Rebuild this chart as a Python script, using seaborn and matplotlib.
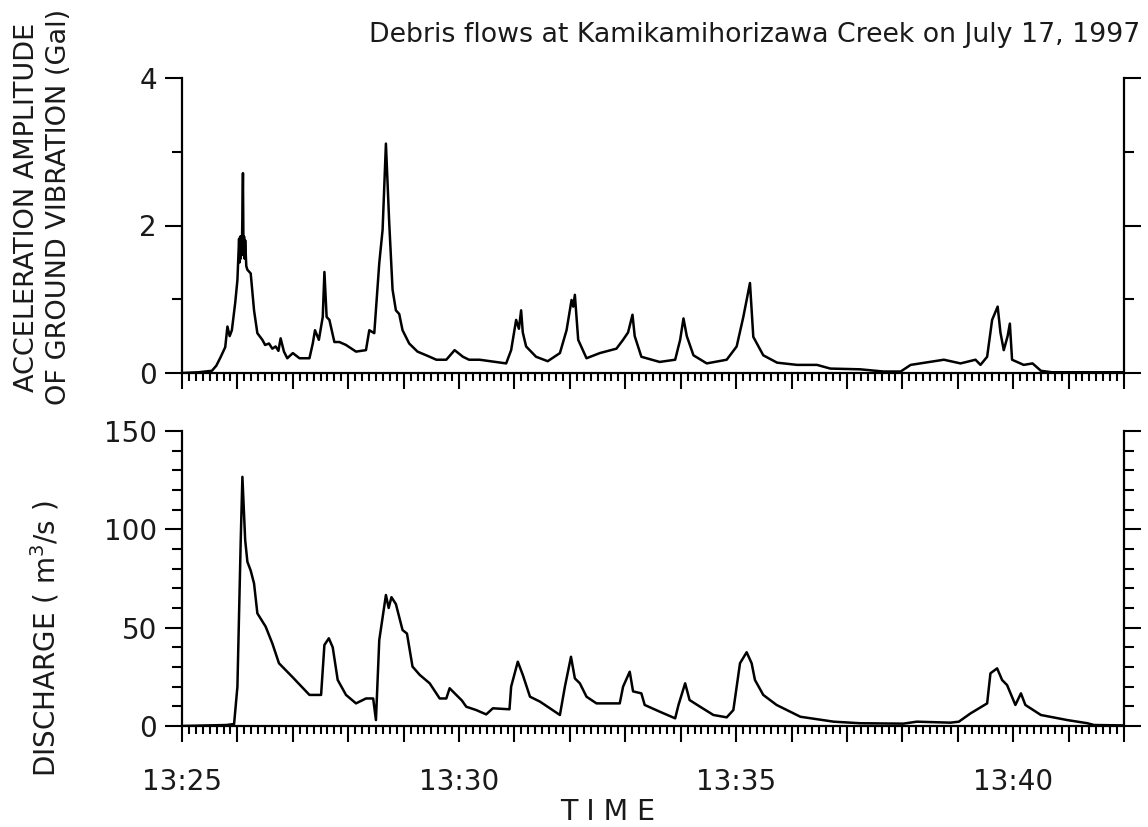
import matplotlib
matplotlib.use("Agg")
import matplotlib.pyplot as plt
from matplotlib.ticker import MultipleLocator, FuncFormatter
import seaborn as sns
import pandas as pd

# ---- data (time in minutes after 13:25) ----
vib_time = [0, 0.3, 0.54, 0.62, 0.70, 0.78, 0.82, 0.86, 0.90, 0.96, 1.00, 1.03, 1.04, 1.05,
            1.06, 1.07, 1.08, 1.10, 1.11, 1.12, 1.13, 1.14, 1.16, 1.18, 1.24, 1.30, 1.36,
            1.45, 1.50, 1.57, 1.63, 1.69, 1.74,
            1.78, 1.84, 1.90, 2.00, 2.12, 2.30, 2.36, 2.40, 2.47, 2.54, 2.57, 2.61, 2.66,
            2.75, 2.84, 2.96, 3.14, 3.32, 3.38, 3.47, 3.56, 3.62, 3.68, 3.74, 3.80, 3.86,
            3.92, 3.98, 4.10, 4.25, 4.47, 4.59, 4.77, 4.92, 5.07, 5.18, 5.37, 5.85, 5.94,
            6.03, 6.08, 6.12, 6.15, 6.21, 6.39, 6.60, 6.82, 6.94, 7.03, 7.06, 7.09, 7.15,
            7.30, 7.54, 7.84, 7.96, 8.05, 8.13, 8.17, 8.29, 8.62, 8.90, 8.99, 9.05, 9.11,
            9.23, 9.47, 9.83, 10.01, 10.13, 10.25, 10.31, 10.49, 10.74, 11.10, 11.46, 11.70,
            12.24, 12.66, 12.97, 13.15, 13.75, 14.05, 14.32, 14.41, 14.53, 14.62, 14.72,
            14.77, 14.83, 14.90, 14.94, 14.98, 15.19, 15.35, 15.50, 15.70, 17.00]
vib_gal = [0.0, 0.01, 0.03, 0.10, 0.22, 0.35, 0.63, 0.50, 0.58, 0.95, 1.26, 1.82, 1.50, 1.85,
           1.55, 1.85, 1.60, 2.71, 1.60, 1.85, 1.55, 1.80, 1.45, 1.40, 1.35, 0.85, 0.54,
           0.45, 0.38, 0.40, 0.33, 0.36, 0.30,
           0.47, 0.29, 0.20, 0.27, 0.20, 0.20, 0.40, 0.58, 0.45, 0.76, 1.37, 0.76, 0.72,
           0.42, 0.42, 0.38, 0.29, 0.31, 0.58, 0.54, 1.49, 1.94, 3.11, 2.03, 1.13, 0.85,
           0.80, 0.58, 0.40, 0.29, 0.22, 0.18, 0.18, 0.31, 0.22, 0.18, 0.18, 0.13, 0.31,
           0.72, 0.60, 0.85, 0.55, 0.36, 0.22, 0.16, 0.27, 0.58, 0.99, 0.90, 1.06, 0.45,
           0.20, 0.27, 0.33, 0.45, 0.55, 0.79, 0.50, 0.22, 0.15, 0.18, 0.45, 0.74, 0.50,
           0.24, 0.13, 0.18, 0.36, 0.76, 1.22, 0.49, 0.24, 0.14, 0.11, 0.11, 0.06,
           0.05, 0.02, 0.02, 0.11, 0.18, 0.13, 0.18, 0.11, 0.22, 0.72, 0.90,
           0.55, 0.31, 0.50, 0.67, 0.18, 0.11, 0.13, 0.03, 0.01, 0.01]

dis_time = [0, 0.80, 0.94, 1.00, 1.06, 1.09, 1.14, 1.18, 1.24, 1.30, 1.36, 1.51, 1.63, 1.75,
            1.99, 2.30, 2.51, 2.57, 2.65, 2.72, 2.81, 2.96, 3.14, 3.32, 3.45, 3.50, 3.56,
            3.68, 3.73, 3.78, 3.86, 3.98, 4.06, 4.16, 4.29, 4.47, 4.65, 4.77, 4.83, 4.95,
            5.05, 5.13, 5.31, 5.49, 5.61, 5.91, 5.94, 6.06, 6.15, 6.28, 6.46, 6.64, 6.82,
            6.91, 7.02, 7.09, 7.18, 7.30, 7.48, 7.90, 7.96, 8.08, 8.14, 8.29, 8.35, 8.62,
            8.90, 8.96, 9.08, 9.16, 9.35, 9.59, 9.83, 9.95, 10.07, 10.19, 10.28, 10.34,
            10.49, 10.73, 11.16, 11.76, 12.24, 13.02, 13.26, 13.87, 14.02, 14.23, 14.53,
            14.59, 14.71, 14.80, 14.89, 15.04, 15.14, 15.22, 15.50, 15.98, 16.34, 16.46, 17.00]
dis_q = [0, 0.5, 1, 20, 94.6, 126.7, 94.6, 83.5, 79, 72.5, 57.3, 50.5, 42, 31.9,
         25, 15.8, 15.8, 41.2, 44.6, 40, 23.4, 15.8, 11.5, 14, 14, 3, 43.7,
         66.6, 60, 65.5, 62, 48.8, 47, 30.2, 26, 21.7, 14, 14, 19.2, 15.8,
         13, 9.8, 8.1, 5.9, 9, 8.5, 20, 32.7, 26, 14.9, 12.4, 9, 5.6,
         20, 35.2, 24.2, 21.7, 14.9, 11.5, 11.5, 20, 27.6, 17.6, 16.6, 10.7, 7.3,
         3.9, 10.7, 21.7, 13.2, 9.8, 5.6, 4.4, 8.1, 31.9, 37.5, 31.9, 23.4,
         15.8, 10.7, 4.7, 2.2, 1.4, 1.2, 2.2, 1.7, 2.2, 6.4, 11.5,
         26.8, 29.3, 23.4, 20.8, 10.7, 16.6, 10.7, 5.6, 3, 1.4, 0.5, 0.3]

time_labels = {0: "13:25", 5: "13:30", 10: "13:35", 15: "13:40"}

title_text = "Debris flows at Kamikamihorizawa Creek on July 17, 1997"
vib_label = "ACCELERATION AMPLITUDE\nOF GROUND VIBRATION (Gal)"
dis_label = "DISCHARGE ( m$^3$/s )"
x_label = "T I M E"

# ---- style ----
sns.set_style("ticks")
plt.rcParams["font.family"] = ["DejaVu Sans"]
plt.rcParams["mathtext.fontset"] = "dejavusans"

INK = "#1a1a1a"

fig = plt.figure(figsize=(11.48, 8.27), dpi=100)
ax1 = fig.add_axes([182 / 1148, 1 - 373 / 827, (1124 - 182) / 1148, 295 / 827])
ax2 = fig.add_axes([182 / 1148, 1 - 726 / 827, (1124 - 182) / 1148, 295 / 827])

df1 = pd.DataFrame({"t": vib_time, "v": vib_gal})
df2 = pd.DataFrame({"t": dis_time, "v": dis_q})
sns.lineplot(data=df1, x="t", y="v", ax=ax1, color="black", lw=1.8, estimator=None)
sns.lineplot(data=df2, x="t", y="v", ax=ax2, color="black", lw=1.8, estimator=None)


def fmt(v, pos):
    k = int(round(v))
    return time_labels.get(k, "") if abs(v - k) < 1e-6 else ""


for ax, ymax, ymaj, ymin in [(ax1, 4, 2, 1), (ax2, 150, 50, 10)]:
    ax.set_xlim(0, 17)
    ax.set_ylim(0, ymax)
    ax.spines["top"].set_visible(False)
    for s in ["left", "bottom", "right"]:
        ax.spines[s].set_visible(True)
        ax.spines[s].set_linewidth(1.6)
        ax.spines[s].set_color("black")
    ax.xaxis.set_major_locator(MultipleLocator(1))
    ax.xaxis.set_minor_locator(MultipleLocator(0.125))
    ax.yaxis.set_major_locator(MultipleLocator(ymaj))
    ax.yaxis.set_minor_locator(MultipleLocator(ymin))
    ax.tick_params(axis="both", which="both", direction="out", color="black", width=1.5)
    ax.tick_params(axis="x", which="major", length=11.5, pad=19)
    ax.tick_params(axis="x", which="minor", length=6)
    ax.tick_params(axis="y", which="major", length=12, pad=6, right=True, labelright=False)
    ax.tick_params(axis="y", which="minor", length=7, right=True)
    ax.tick_params(labelsize=20, labelcolor=INK)
    ax.set_xlabel("")
    ax.set_ylabel("")

ax1.xaxis.set_major_formatter(FuncFormatter(lambda v, p: ""))
ax2.xaxis.set_major_formatter(FuncFormatter(fmt))
ax1.set_yticks([0, 2, 4])
ax2.set_yticks([0, 50, 100, 150])

fig.text(1140 / 1148, 1 - 35 / 827, title_text, ha="right", va="center", fontsize=19.3, color=INK)
fig.text(43 / 1148, 1 - 207 / 827, vib_label, rotation=90, ha="center", va="center",
         fontsize=19.5, linespacing=1.3, multialignment="center", color=INK)
fig.text(45 / 1148, 1 - 639 / 827, dis_label, rotation=90, ha="center", va="center",
         fontsize=20, color=INK)
fig.text(608 / 1148, 1 - 812 / 827, x_label, ha="center", va="center", fontsize=20.5, color=INK)

fig.savefig("out.png", dpi=100, facecolor="white")
